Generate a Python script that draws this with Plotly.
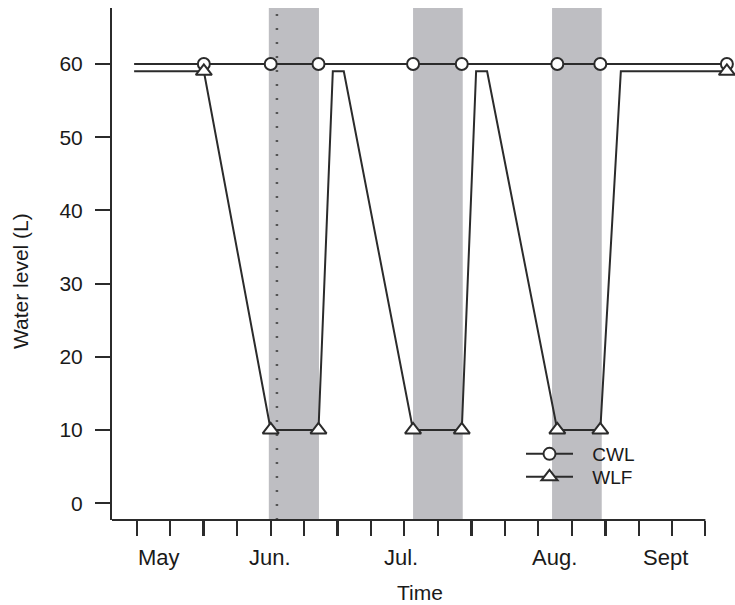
import plotly.graph_objects as go

# ---- data (x in days from first tick) ----
cwl_x = [-0.6, 14, 28, 38, 57.8, 68, 88, 97, 123.5]
cwl_y = [60, 60, 60, 60, 60, 60, 60, 60, 60]
cwl_mx = [14, 28, 38, 57.8, 68, 88, 97, 123.5]
cwl_my = [60, 60, 60, 60, 60, 60, 60, 60]

wlf_x = [-0.6, 14, 28, 38, 41, 43.3, 57.8, 68, 71, 73.3, 88, 97, 101.3, 123.5]
wlf_y = [59, 59, 10, 10, 59, 59, 10, 10, 59, 59, 10, 10, 59, 59]
wlf_mx = [14, 28, 38, 57.8, 68, 88, 97, 123.5]
wlf_my = [59, 10, 10, 10, 10, 10, 10, 59]

band_start = [27.6, 57.8, 86.9]
band_end = [38.1, 68.2, 97.3]
event_x = [29.3]

major_ticks = [14, 42, 70, 98]
minor_ticks = [0, 7, 21, 28, 35, 49, 56, 63, 77, 84, 91, 105, 112, 119]
month_pos = [4.6, 27.9, 55.3, 87.5, 110.6]
month_lab = ["May", "Jun.", "Jul.", "Aug.", "Sept"]
y_ticks = [0, 10, 20, 30, 40, 50, 60]

INK = "#2b2b2b"
TXT = "#1a1a1a"
FONT = "Liberation Sans, Arial, sans-serif"

# plot area geometry (px) used to place paper-referenced texts
L, T, W, H = 112, 8, 623, 512


def px_x(px):
    return (px - L) / W


def px_y(py):
    return 1 - (py - T) / H


fig = go.Figure()

fig.add_trace(go.Scatter(x=cwl_x, y=cwl_y, mode="lines", line=dict(color=INK, width=2),
                         showlegend=False, hoverinfo="skip"))
fig.add_trace(go.Scatter(x=cwl_mx, y=cwl_my, mode="markers", cliponaxis=False,
                         marker=dict(symbol="circle", size=12, color="white",
                                     line=dict(color=INK, width=2)),
                         showlegend=False))
fig.add_trace(go.Scatter(x=wlf_x, y=wlf_y, mode="lines", line=dict(color=INK, width=2),
                         showlegend=False, hoverinfo="skip"))
fig.add_trace(go.Scatter(x=wlf_mx, y=wlf_my, mode="markers", cliponaxis=False,
                         marker=dict(symbol="triangle-up", size=14, color="white",
                                     line=dict(color=INK, width=2)),
                         showlegend=False))
# legend entries
fig.add_trace(go.Scatter(x=[None], y=[None], mode="lines+markers",
                         name="\u2002\u2005CWL", legend="legend",
                         line=dict(color=INK, width=2),
                         marker=dict(symbol="circle", size=12, color="white",
                                     line=dict(color=INK, width=2))))
fig.add_trace(go.Scatter(x=[None], y=[None], mode="lines+markers",
                         name="\u2002\u2005WLF", legend="legend2",
                         line=dict(color=INK, width=2),
                         marker=dict(symbol="triangle-up", size=14, color="white",
                                     line=dict(color=INK, width=2))))

shapes = []
for s, e in zip(band_start, band_end):
    shapes.append(dict(type="rect", xref="x", yref="paper", x0=s, x1=e, y0=0, y1=1,
                       fillcolor="#bebec2", line=dict(width=0), layer="below"))
for ex in event_x:
    shapes.append(dict(type="line", xref="x", yref="paper", x0=ex, x1=ex, y0=0, y1=1,
                       line=dict(color="#555555", width=2.5, dash="2px,12px"), layer="below"))
# x axis line (ends at last tick)
shapes.append(dict(type="line", xref="x", yref="paper", x0=-5.23, x1=max(minor_ticks),
                   y0=0, y1=0, line=dict(color=INK, width=2)))

annotations = []
for p, t in zip(month_pos, month_lab):
    annotations.append(dict(x=p, y=px_y(557), xref="x", yref="paper", text=t, showarrow=False,
                            xanchor="center", yanchor="middle",
                            font=dict(size=22, color=TXT, family=FONT)))
annotations.append(dict(x=px_x(420), y=px_y(592), xref="paper", yref="paper", text="Time",
                        showarrow=False, xanchor="center", yanchor="middle",
                        font=dict(size=21, color=TXT, family=FONT)))
annotations.append(dict(x=px_x(20), y=px_y(281), xref="paper", yref="paper",
                        text="Water level (L)", textangle=-90, showarrow=False,
                        xanchor="center", yanchor="middle",
                        font=dict(size=21, color=TXT,
                                  family="Liberation Sans Narrow, Liberation Sans, Arial")))

fig.update_layout(
    width=735, height=605,
    margin=dict(l=L, r=735 - L - W, t=T, b=605 - T - H),
    paper_bgcolor="white", plot_bgcolor="white",
    font=dict(family=FONT, color=TXT),
    shapes=shapes,
    annotations=annotations,
    xaxis=dict(range=[-5.23, 125.2], showgrid=False, zeroline=False, showline=False,
               tickmode="array", tickvals=major_ticks, ticktext=["" for _ in major_ticks],
               ticks="outside", ticklen=15, tickwidth=3, tickcolor=INK,
               minor=dict(tickmode="array", tickvals=minor_ticks, ticks="outside",
                          ticklen=15, tickwidth=1.5, tickcolor=INK, showgrid=False)),
    yaxis=dict(range=[-2.3, 67.65], showgrid=False, zeroline=False, showline=True,
               linecolor=INK, linewidth=2, tickmode="array", tickvals=y_ticks,
               ticks="outside", ticklen=15, tickwidth=1.5, tickcolor=INK,
               ticklabelstandoff=8, tickfont=dict(size=21, color=TXT, family=FONT)),
    legend=dict(x=px_x(521), y=px_y(454), xanchor="left", yanchor="middle",
                bgcolor="rgba(0,0,0,0)", itemwidth=47,
                font=dict(size=19, color=TXT, family=FONT)),
    legend2=dict(x=px_x(521), y=px_y(477), xanchor="left", yanchor="middle",
                 bgcolor="rgba(0,0,0,0)", itemwidth=47,
                 font=dict(size=19, color=TXT, family=FONT)),
)

fig.write_html("out.html")
